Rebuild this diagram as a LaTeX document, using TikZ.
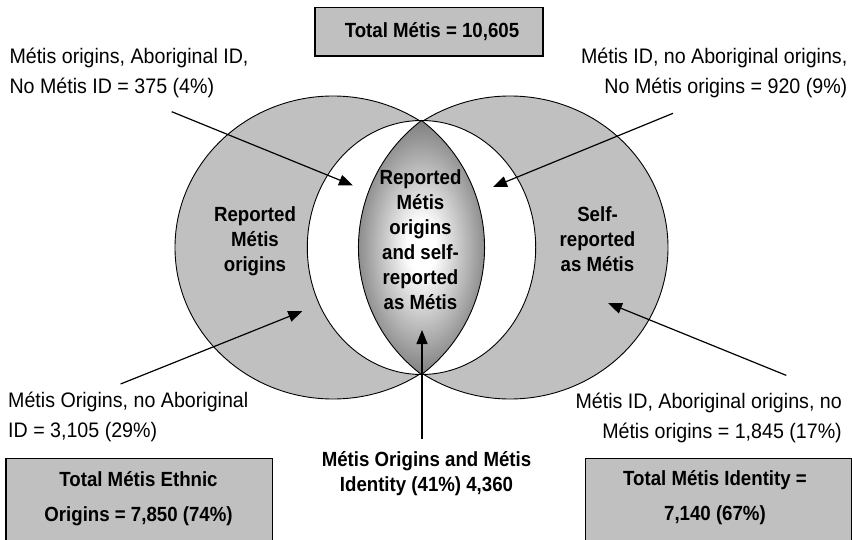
\documentclass[tikz,border=0pt]{standalone}
\usepackage{fontspec}
\setmainfont{Liberation Sans}[FakeStretch=0.935]
\newfontfamily\bfam{Liberation Sans}[FakeStretch=0.91]
\usetikzlibrary{arrows.meta,shapes.geometric}
\newcommand\tabL[1]{\begin{tabular}[t]{@{}l@{}}#1\end{tabular}}
\newcommand\tabC[1]{\begin{tabular}[t]{@{}c@{}}#1\end{tabular}}
\newcommand\tabR[1]{\begin{tabular}[t]{@{}r@{}}#1\end{tabular}}
\definecolor{cgray}{HTML}{C0C0C0}
\pgfdeclareradialshading{lensshade}{\pgfpoint{0bp}{0bp}}{color(0bp)=(white); color(5bp)=(white); color(25bp)=(black!50); color(50bp)=(black!58)}
\begin{document}
\begin{tikzpicture}[x=1pt,y=-1pt,
  reg/.style={inner sep=0pt, font=\fontsize{21}{30}\selectfont},
  bld/.style={inner sep=0pt, font=\bfam\bfseries\fontsize{20.5}{25}\selectfont},
  boxbld/.style={inner sep=0pt, font=\bfam\bfseries\fontsize{20.5}{35.5}\selectfont},
  disk/.style={ellipse, inner sep=0pt, fill=cgray, draw=black, line width=0.9pt},
  hole/.style={ellipse, inner sep=0pt, fill=white, draw=black, line width=0.9pt},
  sumbox/.style={rectangle, fill=cgray, draw=black, line width=1.2pt, inner sep=0pt},
  pointer/.style={draw=black, line width=1.2pt, -{Triangle[length=14pt,width=11pt]}},
]
\useasboundingbox (0,0) rectangle (852,540);
\clip (0,0) rectangle (852,540);
\fill[white] (0,0) rectangle (852,540);

% big sets
\node[disk, minimum width=316pt, minimum height=303pt] (left) at (333,247.5) {};
\node[disk, minimum width=316pt, minimum height=303pt] (right) at (510,247.5) {};
\node[hole, minimum width=228.4pt, minimum height=254pt] (inner) at (421.5,247.5) {};
% lens
\path[shade, shading=lensshade, draw=black, line width=0.9pt]
  (421.5,120.5) arc[start angle=127.2, end angle=232.8, radius=159.5pt]
  arc[start angle=-52.8, end angle=52.8, radius=159.5pt] -- cycle;

% region labels
\node[bld, anchor=base] (lreg) at (255,221.7) {\tabC{Reported\\Métis\\origins}};
\node[bld, anchor=base] (rreg) at (597.5,221.7) {\tabC{Self-\\reported\\as Métis}};
\node[bld, anchor=base] (mreg) at (420.5,185) {\tabC{Reported\\Métis\\origins\\and self-\\reported\\as Métis}};

% outside texts
\node[reg, anchor=base west] (tl) at (9.3,63.3) {\tabL{Métis origins, Aboriginal ID,\\No Métis ID = 375 (4\%)}};
\node[reg, anchor=base east] (tr) at (847.5,63.3) {\tabR{Métis ID, no Aboriginal origins,\\No Métis origins = 920 (9\%)}};
\node[reg, anchor=base west] (bl) at (8,407.5) {\tabL{Métis Origins, no Aboriginal\\ID = 3,105 (29\%)}};
\node[reg, anchor=base east] (br) at (842,408.5) {\tabR{Métis ID, Aboriginal origins, no\\Métis origins = 1,845 (17\%)}};
\node[bld, anchor=base] (bc) at (426.5,466.7) {\tabC{Métis Origins and Métis\\Identity (41\%) 4,360}};

% summary boxes
\node[sumbox, minimum width=228pt, minimum height=48.4pt] (topbox) at (429,31.8) {};
\node[boxbld] (toptxt) at (432,31.8) {Total Métis = 10,605};
\node[sumbox, anchor=north west, minimum width=266.3pt, minimum height=110pt] (lbox) at (5.4,457.5) {};
\node[boxbld, anchor=base] (ltxt) at (138.5,486) {\tabC{Total Métis Ethnic\\Origins = 7,850 (74\%)}};
\node[sumbox, anchor=north west, minimum width=266.5pt, minimum height=110pt] (rbox) at (584.5,457.5) {};
\node[boxbld, anchor=base] (rtxt) at (715,485) {\tabC{Total Métis Identity =\\7,140 (67\%)}};

% arrows
\coordinate (aTLs) at (171.7,111.7);
\coordinate (aTLe) at (353,185.5);
\coordinate (aTRs) at (673,113.3);
\coordinate (aTRe) at (493,187);
\coordinate (aBLs) at (120.6,384);
\coordinate (aBLe) at (302.3,311.2);
\coordinate (aBRs) at (786.3,375.4);
\coordinate (aBRe) at (608,303);
\coordinate (aBCs) at (422,439);
\coordinate (aBCe) at (422,330);
\draw[pointer] (aTLs) -- (aTLe);
\draw[pointer] (aTRs) -- (aTRe);
\draw[pointer] (aBLs) -- (aBLe);
\draw[pointer] (aBRs) -- (aBRe);
\draw[pointer] (aBCs) -- (aBCe);
\end{tikzpicture}
\end{document}
